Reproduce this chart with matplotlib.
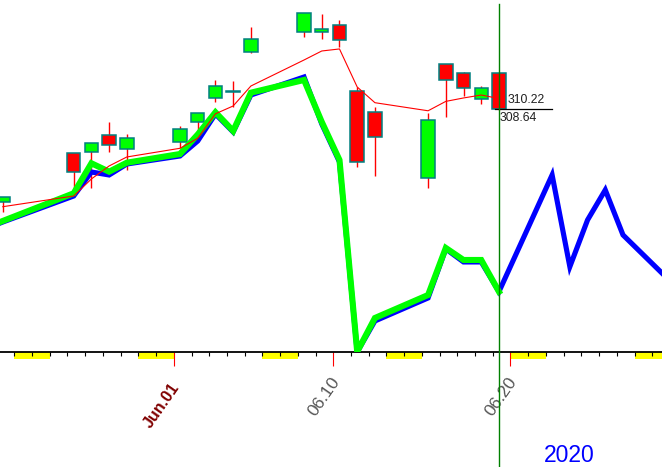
import matplotlib
matplotlib.use("Agg")
import matplotlib.pyplot as plt
from matplotlib.patches import Rectangle
import pandas as pd
import numpy as np

plt.rcParams['font.family'] = ['Liberation Sans', 'DejaVu Sans']

# ---------------- data ----------------
candle_dates = ["2020-05-22", "2020-05-26", "2020-05-27", "2020-05-28", "2020-05-29",
                "2020-06-01", "2020-06-02", "2020-06-03", "2020-06-04", "2020-06-05",
                "2020-06-08", "2020-06-09", "2020-06-10", "2020-06-11", "2020-06-12",
                "2020-06-15", "2020-06-16", "2020-06-17", "2020-06-18", "2020-06-19"]
opens = [294.52, 301.98, 302.13, 304.68, 302.55, 303.66, 306.61, 310.26, 311.20, 317.26,
         320.31, 320.40, 321.42, 311.37, 308.13, 298.09, 315.44, 314.07, 310.11, 314.07]
highs = [295.29, 301.98, 303.46, 306.70, 304.83, 306.05, 307.98, 313.05, 312.90, 321.16,
         323.20, 323.09, 322.18, 311.94, 308.89, 307.98, 315.44, 314.31, 312.13, 314.07]
lows = [293.00, 296.31, 296.66, 302.13, 299.35, 302.65, 304.94, 309.74, 308.98, 317.11,
        319.55, 319.24, 318.12, 299.85, 298.48, 296.66, 307.46, 310.61, 309.39, 308.50]
closes = [295.29, 299.09, 303.46, 303.15, 304.17, 305.59, 307.98, 312.13, 311.30, 319.29,
          323.20, 320.76, 319.09, 300.61, 304.33, 306.96, 313.00, 311.78, 311.78, 308.64]
ma_values = [293.76, 295.39, 297.98, 299.96, 301.33, 302.65, 304.17, 307.90, 309.09, 312.13,
             316.09, 317.46, 317.77, 311.98, 309.59, 308.36, 309.79, 310.31, 310.76, 310.22]

green_dates = ["2020-05-21"] + candle_dates
green_line = [290.52, 291.59, 295.80, 300.37, 299.09, 300.46, 301.78, 304.75, 308.13, 305.29,
              311.11, 313.05, 306.66, 300.87, 271.69, 276.82, 280.32, 287.48, 285.65, 285.65,
              280.83]

blue_dates = ["2020-05-21"] + candle_dates + ["2020-06-22", "2020-06-23", "2020-06-24",
                                              "2020-06-25", "2020-06-26", "2020-06-29"]
blue_line = [290.37, 291.43, 295.39, 299.04, 298.59, 300.26, 301.48, 303.76, 307.87, 305.13,
             310.76, 313.50, 306.35, 300.57, 271.65, 276.37, 279.87, 287.33, 285.35, 285.35,
             280.83, 298.59, 284.63, 291.74, 296.31, 289.46, 281.54]

axis_start, axis_end = "2020-05-21", "2020-06-29"
major_tick_dates = ["2020-06-01", "2020-06-10", "2020-06-20"]
major_tick_labels = ["Jun.01", "06.10", "06.20"]
year_label = "2020"

# ---------------- helpers ----------------
base = pd.Timestamp("2020-06-01")


def days(dates):
    return np.array([(pd.Timestamp(d) - base).days for d in dates], dtype=float)


W, H = 662, 467
AX_BOTTOM_PX = 352.3  # axis line position from top (pixels)
PX_PER_DAY = 17.72
TICK_SHIFT = -0.35

fig = plt.figure(figsize=(W / 100, H / 100), dpi=100)
fig.patch.set_facecolor("white")
ax = fig.add_axes([0, 1 - AX_BOTTOM_PX / H, 1, AX_BOTTOM_PX / H])


def yax(py):
    """axes fraction for a pixel row measured from figure top"""
    return (AX_BOTTOM_PX - py) / AX_BOTTOM_PX


xt = ax.get_xaxis_transform()

# ---------------- candles ----------------
cx = days(candle_dates)
body_w = 0.76
ax.vlines(cx, lows, highs, color="#ff0000", linewidth=1.0, zorder=2)
for x, o, h, l, c in zip(cx, opens, highs, lows, closes):
    face = "#00ff00" if c >= o else "#ff0000"
    ax.add_patch(Rectangle((x - body_w / 2, min(o, c)), body_w, abs(c - o),
                           facecolor=face, edgecolor="#008080", linewidth=1.1, zorder=3))

# ---------------- lines ----------------
ax.plot(days(blue_dates), blue_line, color="#0000ff", linewidth=3.7, zorder=4,
        solid_joinstyle="miter")
ax.plot(days(green_dates), green_line, color="#00ff00", linewidth=4.4, zorder=5,
        solid_joinstyle="miter")
ax.plot(cx, ma_values, color="#ff0000", linewidth=0.8, zorder=6)

# last price marks
last_x = cx[-1]
ax.plot([last_x - 0.22, last_x + 3.0], [closes[-1], closes[-1]], color="black",
        linewidth=0.9, zorder=7)
ax.annotate(f"{ma_values[-1]:.2f}", xy=(last_x, ma_values[-1]), xytext=(6.5, -1),
            textcoords="offset points", va="center", ha="left", fontsize=8.8,
            color="#202020", zorder=8)
ax.annotate(f"{closes[-1]:.2f}", xy=(last_x, closes[-1]), xytext=(0.5, -2.5),
            textcoords="offset points", va="top", ha="left", fontsize=8.8,
            color="#202020", zorder=8)

# vertical cursor line
ax.plot([last_x, last_x], [yax(H), yax(4)], transform=xt, color="#008000",
        linewidth=1.0, clip_on=False, zorder=9)

# ---------------- axis ----------------
for s in ["top", "left", "right"]:
    ax.spines[s].set_visible(False)
ax.spines["bottom"].set_color("black")
ax.spines["bottom"].set_linewidth(1.3)
ax.set_yticks([])

all_days = pd.date_range(axis_start, axis_end)
day_pos = days(all_days) + TICK_SHIFT
major_pos = days(major_tick_dates) + TICK_SHIFT
ax.set_xticks(major_pos)
ax.set_xticklabels([""] * len(major_pos))
ax.set_xticks(day_pos, minor=True)
ax.tick_params(axis="x", which="major", length=10.4, width=0.8, color="#ff0000",
               direction="out")
ax.tick_params(axis="x", which="minor", length=3.1, width=0.8, color="black",
               direction="out")

# limits after ticks (set_xticks may expand the view)
ax.set_xlim(-180 / PX_PER_DAY, (W - 180) / PX_PER_DAY)
ax.set_ylim(271.6, 325.22)

# weekend highlight
for d, ts in zip(days(all_days), all_days):
    if ts.dayofweek >= 5:
        ax.add_patch(Rectangle((d + TICK_SHIFT, yax(359.3)), 1.0, yax(AX_BOTTOM_PX) - yax(359.3),
                               transform=xt, facecolor="#ffff00", edgecolor="none",
                               clip_on=False, zorder=1))

# tick labels
label_rows = [385, 379, 379]
label_styles = [dict(color="#800000", fontweight="bold", fontsize=11.5),
                dict(color="#555555", fontsize=12.5),
                dict(color="#555555", fontsize=12.5)]
for pos, lab, row, st in zip(major_pos, major_tick_labels, label_rows, label_styles):
    ax.text(pos + 3 / PX_PER_DAY, yax(row), lab, transform=xt, rotation=55,
            rotation_mode="anchor", ha="right", va="center", clip_on=False, **st)

ax.text(major_pos[-1] + 33 / PX_PER_DAY, yax(462), year_label, transform=xt,
        ha="left", va="baseline", fontsize=16.5, color="#0000ff", clip_on=False)

fig.savefig("out.png", dpi=100, facecolor="white")
